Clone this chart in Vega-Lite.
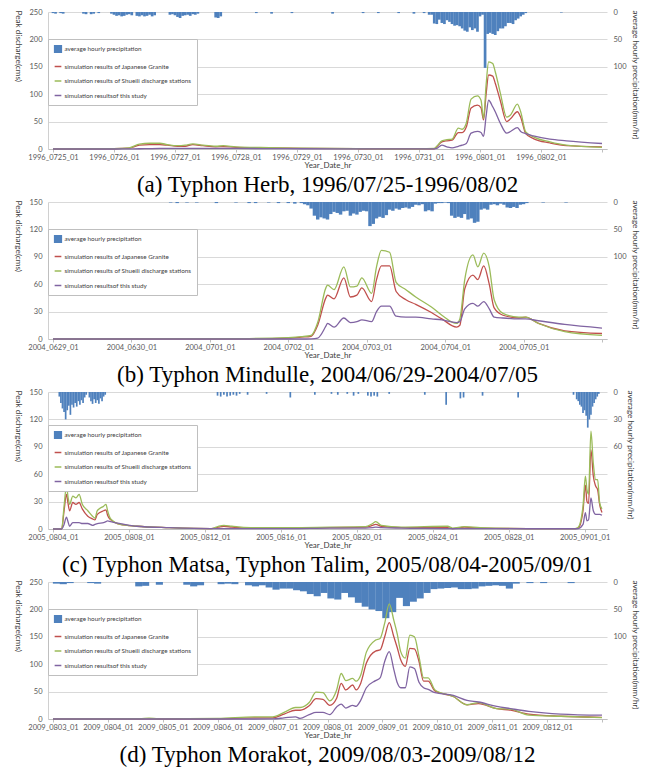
{
"$schema": "https://vega.github.io/schema/vega-lite/v6.json",
"background": "white",
"padding": {"left": 14, "top": 8, "right": 2, "bottom": 0},
"spacing": 1,
"config": {
  "view": {"stroke": null},
  "axis": {"labelFont": "Lato", "titleFont": "Lato", "labelFontSize": 7.5, "titleFontSize": 8.2, "labelColor": "#595959", "titleColor": "#404040", "titleFontWeight": "normal", "domainColor": "#d0d0d0", "tickColor": "#bfbfbf", "gridColor": "#d9d9d9"},
  "title": {"font": "Liberation Serif", "fontSize": 23, "fontWeight": "normal", "color": "black", "orient": "bottom", "anchor": "middle", "offset": 0},
  "legend": {"strokeColor": "#bfbfbf", "fillColor": "white", "padding": 5.5, "rowPadding": 6.5, "labelFont": "Lato", "labelFontSize": 6.3, "labelColor": "#404040", "labelLimit": 300, "symbolSize": 45, "labelOffset": 2}
},
"resolve": {"legend": {"color": "independent"}},
"datasets": {
"aQ": [
{"h":0,"jg":0,"sh":0,"ts":0},{"h":24,"jg":0.5,"sh":0.8,"ts":0},{"h":30,"jg":1.5,"sh":2,"ts":0.3},{"h":34,"jg":7,"sh":9,"ts":0.5},{"h":38,"jg":8,"sh":10.5,"ts":0.8},{"h":42,"jg":8,"sh":10.5,"ts":1},{"h":45,"jg":7,"sh":8,"ts":1},{"h":49,"jg":5,"sh":6,"ts":1},{"h":52,"jg":5,"sh":7,"ts":1},{"h":55,"jg":8,"sh":9.5,"ts":1},{"h":59,"jg":6,"sh":7,"ts":1},{"h":64,"jg":4,"sh":5,"ts":1},{"h":67,"jg":4.5,"sh":6,"ts":1},{"h":72,"jg":3,"sh":4,"ts":1},{"h":85,"jg":2,"sh":2.5,"ts":0.8},{"h":98,"jg":1.2,"sh":1.5,"ts":0.5},{"h":120,"jg":0.5,"sh":0.6,"ts":0.3},{"h":144,"jg":0.2,"sh":0.3,"ts":0.1},{"h":150,"jg":0.5,"sh":1,"ts":0.2},{"h":151,"jg":4,"sh":5,"ts":1},{"h":153,"jg":13,"sh":15,"ts":7},{"h":155,"jg":15,"sh":17,"ts":4},{"h":157,"jg":16,"sh":18,"ts":2},{"h":159.5,"jg":30,"sh":38,"ts":5},{"h":161,"jg":30,"sh":36,"ts":7},{"h":162.6,"jg":40,"sh":47,"ts":10},{"h":164.5,"jg":75,"sh":91,"ts":29},{"h":167,"jg":80,"sh":97,"ts":32},{"h":168.4,"jg":75,"sh":89,"ts":30},{"h":169.4,"jg":53,"sh":56,"ts":23},{"h":170.4,"jg":100,"sh":117,"ts":60},{"h":171.4,"jg":135,"sh":159,"ts":89},{"h":173,"jg":133,"sh":156,"ts":77},{"h":174,"jg":120,"sh":141,"ts":68},{"h":176,"jg":88,"sh":102,"ts":47},{"h":178.5,"jg":50,"sh":58,"ts":29},{"h":180,"jg":55,"sh":62,"ts":32},{"h":182.7,"jg":68,"sh":82,"ts":39},{"h":184,"jg":58,"sh":68,"ts":32},{"h":186,"jg":28,"sh":31,"ts":28},{"h":189,"jg":19,"sh":22,"ts":24},{"h":195.5,"jg":11,"sh":13,"ts":18},{"h":202,"jg":6,"sh":7,"ts":15},{"h":216,"jg":4,"sh":3,"ts":10}
],
"aP": [
{"h":0,"p":2},{"h":1,"p":3},{"h":3,"p":2},{"h":4,"p":3},{"h":12,"p":3},{"h":13,"p":4},{"h":15,"p":4},{"h":16,"p":3},{"h":18,"p":2},{"h":23,"p":3},{"h":24,"p":5},{"h":25,"p":7},{"h":26,"p":6},{"h":27,"p":8},{"h":28,"p":7},{"h":29,"p":5},{"h":30,"p":4},{"h":31,"p":6},{"h":33,"p":7},{"h":34,"p":8},{"h":35,"p":6},{"h":36,"p":8},{"h":37,"p":7},{"h":38,"p":5},{"h":39,"p":8},{"h":40,"p":6},{"h":46,"p":5},{"h":47,"p":4},{"h":48,"p":6},{"h":49,"p":9},{"h":50,"p":11},{"h":51,"p":7},{"h":52,"p":6},{"h":53,"p":5},{"h":54,"p":7},{"h":55,"p":4},{"h":56,"p":5},{"h":57,"p":3},{"h":64,"p":10},{"h":65,"p":11},{"h":66,"p":8},{"h":80,"p":2},{"h":86,"p":3},{"h":94,"p":2},{"h":110,"p":3},{"h":122,"p":2},{"h":128,"p":2},{"h":136,"p":2},{"h":142,"p":3},{"h":146,"p":2},
{"h":148,"p":5},{"h":149,"p":5},{"h":150,"p":21},{"h":151,"p":22},{"h":152,"p":14},{"h":153,"p":20},{"h":154,"p":22},{"h":155,"p":15},{"h":156,"p":18},{"h":157,"p":22},{"h":158,"p":25},{"h":159,"p":24},{"h":160,"p":26},{"h":161,"p":30},{"h":162,"p":34},{"h":163,"p":36},{"h":164,"p":28},{"h":165,"p":33},{"h":166,"p":30},{"h":167,"p":36},{"h":168,"p":8},{"h":169,"p":5},{"h":170,"p":102},{"h":171,"p":40},{"h":172,"p":38},{"h":173,"p":40},{"h":174,"p":42},{"h":175,"p":35},{"h":176,"p":30},{"h":177,"p":30},{"h":178,"p":26},{"h":179,"p":20},{"h":180,"p":20},{"h":181,"p":22},{"h":182,"p":15},{"h":183,"p":12},{"h":184,"p":8},{"h":185,"p":5},{"h":186,"p":2},{"h":200,"p":1}
],
"bQ": [
{"h":0,"jg":0,"sh":0,"ts":0},{"h":60,"jg":0.3,"sh":0.5,"ts":0},{"h":72,"jg":1,"sh":1.5,"ts":0},{"h":76,"jg":2,"sh":2.5,"ts":0},{"h":79,"jg":3,"sh":4,"ts":0.2},{"h":81,"jg":15,"sh":18,"ts":1},{"h":83.5,"jg":45,"sh":56,"ts":14},{"h":84,"jg":48,"sh":59,"ts":17},{"h":86,"jg":44,"sh":54,"ts":13},{"h":89,"jg":67,"sh":79,"ts":23},{"h":91,"jg":46,"sh":57,"ts":18},{"h":93,"jg":48,"sh":58,"ts":19},{"h":94.5,"jg":56,"sh":67,"ts":21},{"h":97.5,"jg":41,"sh":50,"ts":19},{"h":99,"jg":65,"sh":79,"ts":30},{"h":100.5,"jg":80,"sh":97,"ts":36},{"h":103,"jg":80,"sh":95,"ts":36},{"h":105,"jg":52,"sh":62,"ts":25},{"h":108,"jg":43,"sh":54,"ts":24},{"h":111,"jg":38,"sh":46,"ts":24},{"h":115.8,"jg":29,"sh":35,"ts":22},{"h":119,"jg":22,"sh":26,"ts":21},{"h":123.5,"jg":13,"sh":17,"ts":18},{"h":124.5,"jg":15,"sh":22,"ts":19},{"h":126,"jg":55,"sh":65,"ts":33},{"h":128.5,"jg":70,"sh":92,"ts":39},{"h":130,"jg":65,"sh":79,"ts":36},{"h":131.8,"jg":80,"sh":94,"ts":41},{"h":133.5,"jg":60,"sh":79,"ts":33},{"h":135,"jg":34,"sh":43,"ts":24},{"h":137.7,"jg":26,"sh":28,"ts":23},{"h":142.6,"jg":23,"sh":24,"ts":22},{"h":144.6,"jg":24,"sh":24,"ts":22},{"h":148.6,"jg":17,"sh":17,"ts":20},{"h":156.6,"jg":9,"sh":8,"ts":16},{"h":168,"jg":6,"sh":4,"ts":12}
],
"bP": [
{"h":36,"p":1},{"h":38,"p":2},{"h":41,"p":1},{"h":44,"p":1},{"h":50,"p":2},{"h":56,"p":1},{"h":60,"p":2},{"h":62,"p":2},{"h":66,"p":1},{"h":69,"p":2},{"h":72,"p":2},{"h":74,"p":3},{"h":76,"p":2},{"h":77,"p":4},{"h":78,"p":6},
{"h":79,"p":12},{"h":80,"p":25},{"h":81,"p":32},{"h":82,"p":28},{"h":83,"p":30},{"h":84,"p":32},{"h":85,"p":22},{"h":86,"p":18},{"h":87,"p":20},{"h":88,"p":23},{"h":89,"p":17},{"h":90,"p":16},{"h":91,"p":25},{"h":92,"p":21},{"h":93,"p":23},{"h":94,"p":18},{"h":95,"p":16},{"h":96,"p":17},{"h":97,"p":44},{"h":98,"p":40},{"h":99,"p":30},{"h":100,"p":27},{"h":101,"p":29},{"h":102,"p":24},{"h":103,"p":14},{"h":104,"p":16},{"h":105,"p":12},{"h":106,"p":14},{"h":107,"p":11},{"h":108,"p":10},{"h":109,"p":12},{"h":110,"p":9},{"h":111,"p":5},{"h":112,"p":6},{"h":113,"p":4},{"h":114,"p":17},{"h":115,"p":15},{"h":116,"p":17},{"h":117,"p":3},{"h":118,"p":2},{"h":119,"p":2},{"h":120,"p":1},{"h":121,"p":2},{"h":122,"p":25},{"h":123,"p":29},{"h":124,"p":27},{"h":125,"p":29},{"h":126,"p":22},{"h":127,"p":32},{"h":128,"p":30},{"h":129,"p":38},{"h":130,"p":36},{"h":131,"p":14},{"h":132,"p":12},{"h":133,"p":14},{"h":134,"p":5},{"h":135,"p":4},{"h":136,"p":6},{"h":137,"p":3},{"h":138,"p":5},{"h":139,"p":10},{"h":140,"p":11},{"h":141,"p":9},{"h":142,"p":11},{"h":143,"p":5},{"h":144,"p":4},{"h":145,"p":2},{"h":150,"p":1},{"h":157,"p":1}
],
"cQ": [
{"h":0,"jg":0,"sh":0,"ts":0},{"h":11,"jg":0,"sh":0.5,"ts":0},{"h":14,"jg":20,"sh":25,"ts":5},{"h":17,"jg":38,"sh":47,"ts":13},{"h":19,"jg":28,"sh":35,"ts":8},{"h":21,"jg":20,"sh":27,"ts":3},{"h":25,"jg":29,"sh":36,"ts":7},{"h":29,"jg":27,"sh":34,"ts":7},{"h":33,"jg":29,"sh":38,"ts":7},{"h":37,"jg":22,"sh":27,"ts":6},{"h":44,"jg":14,"sh":20,"ts":6},{"h":50,"jg":11,"sh":14,"ts":4},{"h":53,"jg":10,"sh":12,"ts":5},{"h":56,"jg":16,"sh":20,"ts":6},{"h":64,"jg":20,"sh":25,"ts":7},{"h":67,"jg":21,"sh":27,"ts":8},{"h":69,"jg":15,"sh":20,"ts":9},{"h":73,"jg":10,"sh":11,"ts":8},{"h":85,"jg":5,"sh":5,"ts":6},{"h":106,"jg":3,"sh":3,"ts":3},{"h":147,"jg":1.5,"sh":1.5,"ts":1.5},{"h":200,"jg":0.5,"sh":0.5,"ts":0.5},{"h":209,"jg":2,"sh":3,"ts":0.5},{"h":216,"jg":3,"sh":4,"ts":0.5},{"h":226,"jg":2,"sh":3,"ts":0.5},{"h":250,"jg":1,"sh":1.5,"ts":0.5},{"h":300,"jg":1,"sh":1.5,"ts":0.5},{"h":350,"jg":1.5,"sh":2,"ts":1},{"h":395,"jg":2,"sh":2.5,"ts":1},{"h":404,"jg":4,"sh":6,"ts":1.5},{"h":408,"jg":5,"sh":8,"ts":2},{"h":415,"jg":3,"sh":4,"ts":1.5},{"h":440,"jg":1.5,"sh":2,"ts":1},{"h":499,"jg":1.5,"sh":3,"ts":0.5},{"h":505,"jg":0.5,"sh":1,"ts":0.3},{"h":520,"jg":2,"sh":2.5,"ts":0.5},{"h":540,"jg":1,"sh":1.5,"ts":0.5},{"h":600,"jg":0.5,"sh":0.5,"ts":0.3},{"h":660,"jg":0.5,"sh":0.5,"ts":0.3},{"h":664,"jg":1,"sh":2,"ts":0.5},{"h":670,"jg":20,"sh":25,"ts":5},{"h":673,"jg":48,"sh":58,"ts":18},{"h":675,"jg":30,"sh":43,"ts":9},{"h":677,"jg":28,"sh":38,"ts":10},{"h":680,"jg":87,"sh":107,"ts":34},{"h":683,"jg":58,"sh":72,"ts":20},{"h":686,"jg":47,"sh":54,"ts":16},{"h":688.5,"jg":43,"sh":54,"ts":16},{"h":691,"jg":27,"sh":29,"ts":16},{"h":694,"jg":18,"sh":22,"ts":15}
],
"cP": [
{"h":8,"p":5},{"h":10,"p":12},{"h":12,"p":18},{"h":14,"p":22},{"h":16,"p":30},{"h":18,"p":20},{"h":20,"p":15},{"h":22,"p":25},{"h":24,"p":14},{"h":26,"p":17},{"h":28,"p":12},{"h":30,"p":16},{"h":32,"p":10},{"h":34,"p":14},{"h":36,"p":9},{"h":38,"p":12},{"h":40,"p":6},{"h":42,"p":3},{"h":46,"p":6},{"h":48,"p":10},{"h":50,"p":13},{"h":52,"p":8},{"h":54,"p":12},{"h":56,"p":9},{"h":58,"p":13},{"h":60,"p":7},{"h":62,"p":10},{"h":64,"p":5},{"h":66,"p":3},{"h":208,"p":4},{"h":212,"p":5},{"h":216,"p":3},{"h":220,"p":5},{"h":224,"p":4},{"h":228,"p":3},{"h":232,"p":4},{"h":236,"p":2},{"h":246,"p":3},{"h":270,"p":2},{"h":300,"p":6},{"h":331,"p":3},{"h":352,"p":2},{"h":360,"p":3},{"h":372,"p":2},{"h":380,"p":4},{"h":386,"p":2},{"h":398,"p":4},{"h":402,"p":5},{"h":406,"p":4},{"h":410,"p":5},{"h":425,"p":2},{"h":470,"p":3},{"h":497,"p":14},{"h":515,"p":7},{"h":519,"p":6},{"h":543,"p":4},{"h":588,"p":6},{"h":658,"p":3},{"h":662,"p":8},{"h":664,"p":10},{"h":666,"p":14},{"h":668,"p":16},{"h":670,"p":23},{"h":672,"p":20},{"h":674,"p":26},{"h":676,"p":39},{"h":678,"p":30},{"h":680,"p":25},{"h":682,"p":16},{"h":684,"p":12},{"h":686,"p":8},{"h":688,"p":5},{"h":690,"p":2}
],
"dQ": [
{"h":0,"jg":0,"sh":0,"ts":0},{"h":38,"jg":0,"sh":0.5,"ts":0},{"h":42,"jg":0.3,"sh":1.5,"ts":0},{"h":46,"jg":0,"sh":0.3,"ts":0},{"h":72,"jg":0.5,"sh":1,"ts":0},{"h":88,"jg":2,"sh":4,"ts":0},{"h":96,"jg":2,"sh":4,"ts":0.3},{"h":101,"jg":9,"sh":12,"ts":2},{"h":106,"jg":16,"sh":21,"ts":4},{"h":108,"jg":16,"sh":21,"ts":1},{"h":112,"jg":24,"sh":30,"ts":8},{"h":115,"jg":37,"sh":49,"ts":12},{"h":118,"jg":36,"sh":48,"ts":12},{"h":121,"jg":25,"sh":33,"ts":8},{"h":124,"jg":38,"sh":53,"ts":22},{"h":126,"jg":65,"sh":83,"ts":27},{"h":128,"jg":53,"sh":70,"ts":20},{"h":131,"jg":62,"sh":74,"ts":25},{"h":132.5,"jg":53,"sh":69,"ts":23},{"h":134.5,"jg":65,"sh":80,"ts":34},{"h":137,"jg":102,"sh":122,"ts":57},{"h":141,"jg":124,"sh":144,"ts":70},{"h":143,"jg":126,"sh":147,"ts":75},{"h":145,"jg":150,"sh":175,"ts":105},{"h":147,"jg":176,"sh":210,"ts":123},{"h":149,"jg":150,"sh":180,"ts":90},{"h":150.5,"jg":130,"sh":155,"ts":66},{"h":152,"jg":108,"sh":123,"ts":57},{"h":154,"jg":96,"sh":111,"ts":57},{"h":156,"jg":129,"sh":153,"ts":95},{"h":158,"jg":128,"sh":150,"ts":92},{"h":160,"jg":105,"sh":114,"ts":67},{"h":162,"jg":69,"sh":75,"ts":57},{"h":164,"jg":69,"sh":75,"ts":54},{"h":167,"jg":51,"sh":53,"ts":48},{"h":175,"jg":41,"sh":41,"ts":43},{"h":181,"jg":26,"sh":26,"ts":34},{"h":186,"jg":28,"sh":30,"ts":31},{"h":194,"jg":19,"sh":19,"ts":23},{"h":200,"jg":16,"sh":18,"ts":19},{"h":208,"jg":9,"sh":7,"ts":14},{"h":222,"jg":5,"sh":5,"ts":9},{"h":240,"jg":3,"sh":2.5,"ts":7}
],
"dP": [
{"h":1.5,"p":3},{"h":4.5,"p":4},{"h":7.5,"p":2},{"h":16.5,"p":2},{"h":19.5,"p":3},{"h":37.5,"p":8},{"h":40.5,"p":7},{"h":46.5,"p":5},{"h":58.5,"p":5},{"h":61.5,"p":8},{"h":64.5,"p":6},{"h":73.5,"p":4},{"h":76.5,"p":3},{"h":79.5,"p":4},{"h":85.5,"p":6},{"h":88.5,"p":8},{"h":91.5,"p":6},{"h":94.5,"p":10},{"h":97.5,"p":14},{"h":100.5,"p":12},{"h":103.5,"p":12},{"h":106.5,"p":15},{"h":109.5,"p":17},{"h":112.5,"p":22},{"h":115.5,"p":26},{"h":118.5,"p":20},{"h":121.5,"p":30},{"h":124.5,"p":32},{"h":127.5,"p":20},{"h":130.5,"p":28},{"h":133.5,"p":38},{"h":136.5,"p":45},{"h":139.5,"p":50},{"h":142.5,"p":53},{"h":145.5,"p":66},{"h":148.5,"p":55},{"h":151.5,"p":29},{"h":154.5,"p":44},{"h":157.5,"p":36},{"h":160.5,"p":30},{"h":163.5,"p":20},{"h":166.5,"p":13},{"h":169.5,"p":12},{"h":172.5,"p":11},{"h":175.5,"p":10},{"h":178.5,"p":13},{"h":181.5,"p":13},{"h":184.5,"p":12},{"h":187.5,"p":8},{"h":190.5,"p":7},{"h":193.5,"p":6},{"h":196.5,"p":7},{"h":199.5,"p":12},{"h":202.5,"p":3},{"h":208.5,"p":2},{"h":214.5,"p":2},{"h":226.5,"p":2}
]
},
"vconcat": [
{
  "width": 559, "height": 137,
  "title": {"text": "(a) Typhon Herb, 1996/07/25-1996/08/02"},
  "resolve": {"scale": {"y": "independent"}},
  "layer": [
    {"data": {"name": "aP"}, "mark": {"type": "bar", "width": 2.7},
     "encoding": {
       "x": {"field": "h", "type": "quantitative", "scale": {"domain": [0, 216], "nice": false},
             "axis": {"values": [0,12,24,36,48,60,72,84,96,108,120,132,144,156,168,180,192,204,216], "labelExpr": "datum.value % 24 === 0 && datum.value < 216 ? timeFormat(time(datetime(1996,6,25,1)) + datum.value*3600000, '%Y_%m%d_%H') : ''", "labelOverlap": false, "labelFlush": false, "title": "Year_Date_hr", "titleFontSize": 8, "grid": false, "tickSize": 3, "labelPadding": 1, "titlePadding": 1, "domainColor": "#bfbfbf"}},
       "y": {"field": "p", "type": "quantitative", "scale": {"domain": [0, 250], "reverse": true, "nice": false},
             "axis": {"orient": "right", "values": [0, 50, 100], "title": "average hourly precipitation(mm/hr)", "grid": false, "domain": false, "ticks": false, "labelPadding": 6, "titleAngle": 90, "titleAlign": "left", "titleY": -2, "titlePadding": 4}},
       "color": {"datum": "P"}
     }},
    {"data": {"name": "aQ"}, "transform": [{"fold": ["jg", "sh", "ts"], "as": ["key", "v"]}],
     "mark": {"type": "line", "strokeWidth": 1.3, "interpolate": "monotone"},
     "encoding": {
       "x": {"field": "h", "type": "quantitative"},
       "y": {"field": "v", "type": "quantitative", "scale": {"domain": [0, 250], "nice": false},
             "axis": {"values": [0, 50, 100, 150, 200, 250], "title": "Peak discharge(cms)", "grid": true, "ticks": false, "labelPadding": 6, "titleAngle": 90, "titleAlign": "left", "titleBaseline": "top", "titleY": -2, "titlePadding": 7}},
       "color": {"field": "key", "type": "nominal",
         "scale": {"domain": ["P", "jg", "sh", "ts"], "range": ["#4f81bd", "#c0504d", "#9bbb59", "#8064a2"]},
         "legend": {"orient": "none", "legendX": 0, "legendY": 27, "title": null,
           "labelExpr": "{'P':'average hourly precipitation','jg':'simulation results of Japanese Granite','sh':'simulation results of Shueili discharge stations','ts':'simulation resultsof this study'}[datum.label]",
           "encode": {"symbols": {"update": {"shape": {"signal": "datum.value === 'P' ? 'square' : 'stroke'"}, "fill": {"signal": "datum.value === 'P' ? '#4f81bd' : 'transparent'"}, "stroke": {"signal": "datum.value === 'P' ? 'transparent' : datum.value === 'jg' ? '#c0504d' : datum.value === 'sh' ? '#9bbb59' : '#8064a2'"}, "strokeWidth": {"value": 1.5}}}}}}
     }}
  ]
},
{
  "width": 559, "height": 137,
  "title": {"text": "(b) Typhon Mindulle, 2004/06/29-2004/07/05"},
  "resolve": {"scale": {"y": "independent"}},
  "layer": [
    {"data": {"name": "bP"}, "mark": {"type": "bar", "width": 3.45},
     "encoding": {
       "x": {"field": "h", "type": "quantitative", "scale": {"domain": [0, 168], "nice": false},
             "axis": {"values": [0,6,12,18,24,30,36,42,48,54,60,66,72,78,84,90,96,102,108,114,120,126,132,138,144,150,156,162,168], "labelExpr": "datum.value % 24 === 0 && datum.value < 168 ? timeFormat(time(datetime(2004,5,29,1)) + datum.value*3600000, '%Y_%m%d_%H') : ''", "labelOverlap": false, "labelFlush": false, "title": "Year_Date_hr", "titleFontSize": 8, "grid": false, "tickSize": 3, "labelPadding": 1, "titlePadding": 1, "domainColor": "#bfbfbf"}},
       "y": {"field": "p", "type": "quantitative", "scale": {"domain": [0, 250], "reverse": true, "nice": false},
             "axis": {"orient": "right", "values": [0, 50, 100], "title": "average hourly precipitation(mm/hr)", "grid": false, "domain": false, "ticks": false, "labelPadding": 6, "titleAngle": 90, "titleAlign": "left", "titleY": -2, "titlePadding": 4}},
       "color": {"datum": "P"}
     }},
    {"data": {"name": "bQ"}, "transform": [{"fold": ["jg", "sh", "ts"], "as": ["key", "v"]}],
     "mark": {"type": "line", "strokeWidth": 1.3, "interpolate": "monotone"},
     "encoding": {
       "x": {"field": "h", "type": "quantitative"},
       "y": {"field": "v", "type": "quantitative", "scale": {"domain": [0, 150], "nice": false},
             "axis": {"values": [0, 30, 60, 90, 120, 150], "title": "Peak discharge(cms)", "grid": true, "ticks": false, "labelPadding": 6, "titleAngle": 90, "titleAlign": "left", "titleBaseline": "top", "titleY": -2, "titlePadding": 7}},
       "color": {"field": "key", "type": "nominal",
         "scale": {"domain": ["P", "jg", "sh", "ts"], "range": ["#4f81bd", "#c0504d", "#9bbb59", "#8064a2"]},
         "legend": {"orient": "none", "legendX": 0, "legendY": 27, "title": null,
           "labelExpr": "{'P':'average hourly precipitation','jg':'simulation results of Japanese Granite','sh':'simulation results of Shueili discharge stations','ts':'simulation resultsof this study'}[datum.label]",
           "encode": {"symbols": {"update": {"shape": {"signal": "datum.value === 'P' ? 'square' : 'stroke'"}, "fill": {"signal": "datum.value === 'P' ? '#4f81bd' : 'transparent'"}, "stroke": {"signal": "datum.value === 'P' ? 'transparent' : datum.value === 'jg' ? '#c0504d' : datum.value === 'sh' ? '#9bbb59' : '#8064a2'"}, "strokeWidth": {"value": 1.5}}}}}}
     }}
  ]
},
{
  "width": 559, "height": 137,
  "title": {"text": "(c) Typhon Matsa, Typhon Talim, 2005/08/04-2005/09/01"},
  "resolve": {"scale": {"y": "independent"}},
  "layer": [
    {"data": {"name": "cP"}, "mark": {"type": "bar", "width": 1.7},
     "encoding": {
       "x": {"field": "h", "type": "quantitative", "scale": {"domain": [0, 694], "nice": false},
             "axis": {"values": [0,48,96,144,192,240,288,336,384,432,480,528,576,624,672], "labelExpr": "datum.value % 96 === 0 ? timeFormat(time(datetime(2005,7,4,1)) + datum.value*3600000, '%Y_%m%d_%H') : ''", "labelOverlap": false, "labelFlush": false, "title": "Year_Date_hr", "titleFontSize": 8, "grid": false, "tickSize": 3, "labelPadding": 1, "titlePadding": 1, "domainColor": "#bfbfbf"}},
       "y": {"field": "p", "type": "quantitative", "scale": {"domain": [0, 150], "reverse": true, "nice": false},
             "axis": {"orient": "right", "values": [0, 30, 60], "title": "average hourly precipitation(mm/hr)", "grid": false, "domain": false, "ticks": false, "labelPadding": 6, "titleAngle": 90, "titleAlign": "left", "titleY": -2, "titlePadding": 4}},
       "color": {"datum": "P"}
     }},
    {"data": {"name": "cQ"}, "transform": [{"fold": ["jg", "sh", "ts"], "as": ["key", "v"]}],
     "mark": {"type": "line", "strokeWidth": 1.3, "interpolate": "monotone"},
     "encoding": {
       "x": {"field": "h", "type": "quantitative"},
       "y": {"field": "v", "type": "quantitative", "scale": {"domain": [0, 150], "nice": false},
             "axis": {"values": [0, 30, 60, 90, 120, 150], "title": "Peak discharge(cms)", "grid": true, "ticks": false, "labelPadding": 6, "titleAngle": 90, "titleAlign": "left", "titleBaseline": "top", "titleY": -2, "titlePadding": 7}},
       "color": {"field": "key", "type": "nominal",
         "scale": {"domain": ["P", "jg", "sh", "ts"], "range": ["#4f81bd", "#c0504d", "#9bbb59", "#8064a2"]},
         "legend": {"orient": "none", "legendX": 0, "legendY": 33, "title": null,
           "labelExpr": "{'P':'average hourly precipitation','jg':'simulation results of Japanese Granite','sh':'simulation results of Shueili discharge stations','ts':'simulation resultsof this study'}[datum.label]",
           "encode": {"symbols": {"update": {"shape": {"signal": "datum.value === 'P' ? 'square' : 'stroke'"}, "fill": {"signal": "datum.value === 'P' ? '#4f81bd' : 'transparent'"}, "stroke": {"signal": "datum.value === 'P' ? 'transparent' : datum.value === 'jg' ? '#c0504d' : datum.value === 'sh' ? '#9bbb59' : '#8064a2'"}, "strokeWidth": {"value": 1.5}}}}}}
     }}
  ]
},
{
  "width": 559, "height": 137,
  "title": {"text": "(d) Typhon Morakot, 2009/08/03-2009/08/12"},
  "resolve": {"scale": {"y": "independent"}},
  "layer": [
    {"data": {"name": "dP"}, "mark": {"type": "bar", "width": 7.1},
     "encoding": {
       "x": {"field": "h", "type": "quantitative", "scale": {"domain": [0, 240], "nice": false},
             "axis": {"values": [0,12,24,36,48,60,72,84,96,108,120,132,144,156,168,180,192,204,216,228,240], "labelExpr": "datum.value % 24 === 0 && datum.value < 240 ? timeFormat(time(datetime(2009,7,3,1)) + datum.value*3600000, '%Y_%m%d_%H') : ''", "labelOverlap": false, "labelFlush": false, "title": "Year_Date_hr", "titleFontSize": 8, "grid": false, "tickSize": 3, "labelPadding": 1, "titlePadding": 1, "domainColor": "#bfbfbf"}},
       "y": {"field": "p", "type": "quantitative", "scale": {"domain": [0, 250], "reverse": true, "nice": false},
             "axis": {"orient": "right", "values": [0, 50, 100], "title": "average hourly precipitation(mm/hr)", "grid": false, "domain": false, "ticks": false, "labelPadding": 6, "titleAngle": 90, "titleAlign": "left", "titleY": -2, "titlePadding": 4}},
       "color": {"datum": "P"}
     }},
    {"data": {"name": "dQ"}, "transform": [{"fold": ["jg", "sh", "ts"], "as": ["key", "v"]}],
     "mark": {"type": "line", "strokeWidth": 1.3, "interpolate": "monotone"},
     "encoding": {
       "x": {"field": "h", "type": "quantitative"},
       "y": {"field": "v", "type": "quantitative", "scale": {"domain": [0, 250], "nice": false},
             "axis": {"values": [0, 50, 100, 150, 200, 250], "title": "Peak discharge(cms)", "grid": true, "ticks": false, "labelPadding": 6, "titleAngle": 90, "titleAlign": "left", "titleBaseline": "top", "titleY": -2, "titlePadding": 7}},
       "color": {"field": "key", "type": "nominal",
         "scale": {"domain": ["P", "jg", "sh", "ts"], "range": ["#4f81bd", "#c0504d", "#9bbb59", "#8064a2"]},
         "legend": {"orient": "none", "legendX": 0, "legendY": 27, "title": null,
           "labelExpr": "{'P':'average hourly precipitation','jg':'simulation results of Japanese Granite','sh':'simulation results of Shueili discharge stations','ts':'simulation resultsof this study'}[datum.label]",
           "encode": {"symbols": {"update": {"shape": {"signal": "datum.value === 'P' ? 'square' : 'stroke'"}, "fill": {"signal": "datum.value === 'P' ? '#4f81bd' : 'transparent'"}, "stroke": {"signal": "datum.value === 'P' ? 'transparent' : datum.value === 'jg' ? '#c0504d' : datum.value === 'sh' ? '#9bbb59' : '#8064a2'"}, "strokeWidth": {"value": 1.5}}}}}}
     }}
  ]
}
]
}
